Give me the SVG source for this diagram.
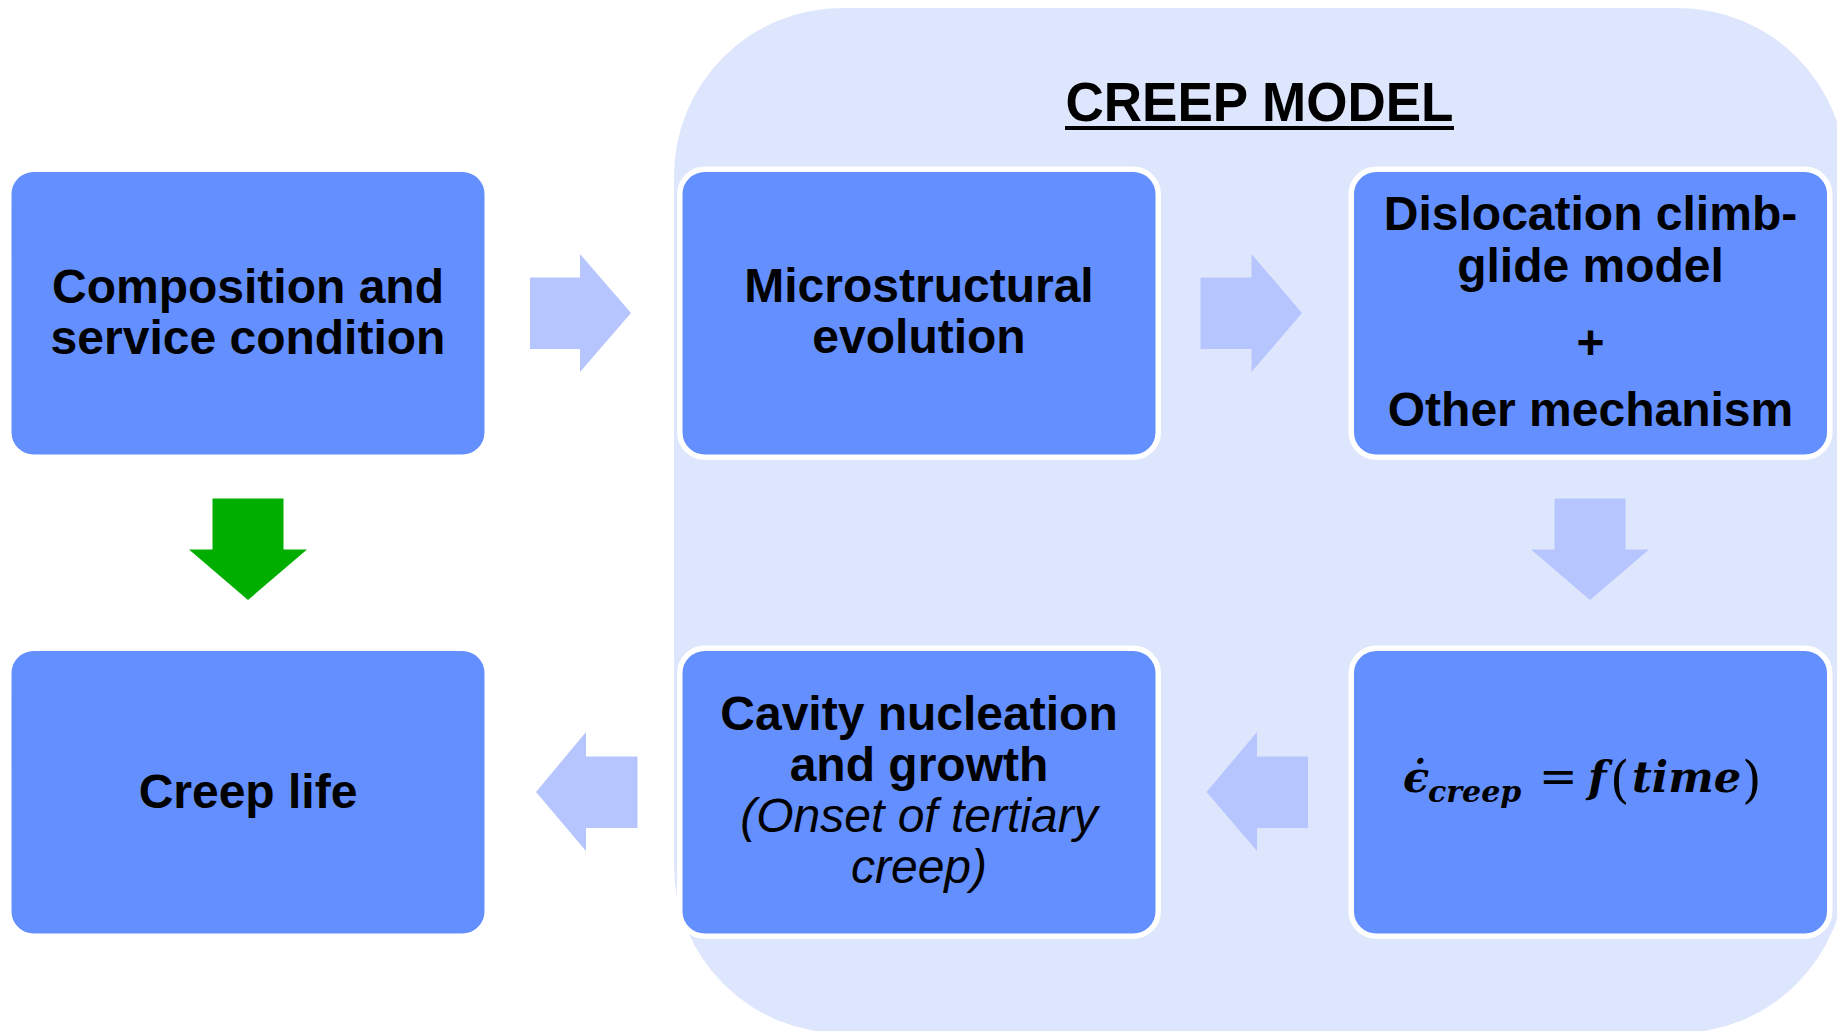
<svg xmlns="http://www.w3.org/2000/svg" width="1837" height="1031" viewBox="0 0 1837 1031">
<style>
  .node rect { fill: #648FFF; stroke: #FFFFFF; stroke-width: 5.5; }
  .lbl { font-family: "Liberation Sans", Arial, sans-serif; font-size: 48px; font-weight: bold; fill: #000; text-anchor: middle; }
  .ital { font-weight: normal; font-style: italic; }
  .arrow { fill: #B7C5FE; }
  .green { fill: #00AE00; }
  .eq { font-family: "DejaVu Serif", "Liberation Serif", serif; font-size: 43px; font-weight: bold; font-style: italic; fill: #000; }
  .up { font-style: normal; font-weight: normal; }
</style>
<rect width="1837" height="1031" fill="#FFFFFF"/>

<g id="creep-model">
  <rect x="674" y="8" width="1172" height="1025" rx="168" ry="168" fill="#DEE6FD"/>
  <text x="1259.5" y="121" font-family="Liberation Sans, Arial, sans-serif" font-size="55" font-weight="bold" text-anchor="middle" textLength="388" lengthAdjust="spacingAndGlyphs">CREEP MODEL</text>
  <rect x="1065" y="126" width="389" height="4" fill="#000"/>
</g>

<g id="connectors">
  <polygon class="arrow" points="530,277.5 580,277.5 580,254 631,313 580,372 580,349 530,349"/>
  <polygon class="arrow" points="1200.5,277.5 1251.5,277.5 1251.5,254 1302,313 1251.5,372 1251.5,349 1200.5,349"/>
  <polygon class="arrow" points="1554.5,498.5 1625.5,498.5 1625.5,549.5 1649,549.5 1590,600 1531,549.5 1554.5,549.5"/>
  <polygon class="arrow" points="1308,756.5 1257,756.5 1257,732 1206.5,792 1257,851 1257,828 1308,828"/>
  <polygon class="arrow" points="637.5,756.5 586,756.5 586,732 536,792 586,851 586,828 637.5,828"/>
  <polygon class="green" points="212.5,498.5 283.5,498.5 283.5,549.5 307,549.5 248,600 189,549.5 212.5,549.5"/>
</g>

<g id="node-composition" class="node">
  <rect x="8.75" y="169.25" width="478.5" height="288" rx="25"/>
  <text class="lbl" x="248" y="302.5">Composition and</text>
  <text class="lbl" x="248" y="354">service condition</text>
</g>

<g id="node-microstructural" class="node">
  <rect x="679.75" y="169.25" width="478.5" height="288" rx="25"/>
  <text class="lbl" x="919" y="301.5">Microstructural</text>
  <text class="lbl" x="919" y="353">evolution</text>
</g>

<g id="node-dislocation" class="node">
  <rect x="1351.25" y="169.25" width="478.5" height="288" rx="25"/>
  <text class="lbl" x="1590.5" y="230">Dislocation climb-</text>
  <text class="lbl" x="1590.5" y="282">glide model</text>
  <text class="lbl" x="1590.5" y="359">+</text>
  <text class="lbl" x="1590.5" y="426">Other mechanism</text>
</g>

<g id="node-creep-life" class="node">
  <rect x="8.75" y="648.25" width="478.5" height="288" rx="25"/>
  <text class="lbl" x="248" y="807.5">Creep life</text>
</g>

<g id="node-cavity" class="node">
  <rect x="679.75" y="648.25" width="478.5" height="288" rx="25"/>
  <text class="lbl" x="919" y="729.5">Cavity nucleation</text>
  <text class="lbl" x="919" y="780.5">and growth</text>
  <text class="lbl ital" x="919" y="831.5">(Onset of tertiary</text>
  <text class="lbl ital" x="919" y="883">creep)</text>
</g>

<g id="node-equation" class="node">
  <rect x="1351.25" y="648.25" width="478.5" height="288" rx="25"/>
  <text class="eq"><tspan x="1403" y="792">ϵ̇</tspan><tspan x="1428" y="802" font-size="30">creep</tspan><tspan class="up" x="1539" y="792" font-size="46">=</tspan><tspan x="1588" y="792">f</tspan><tspan class="up" x="1610" y="797" font-size="50">(</tspan><tspan x="1632" y="792">time</tspan><tspan class="up" x="1742" y="797" font-size="50">)</tspan></text>
</g>
</svg>
